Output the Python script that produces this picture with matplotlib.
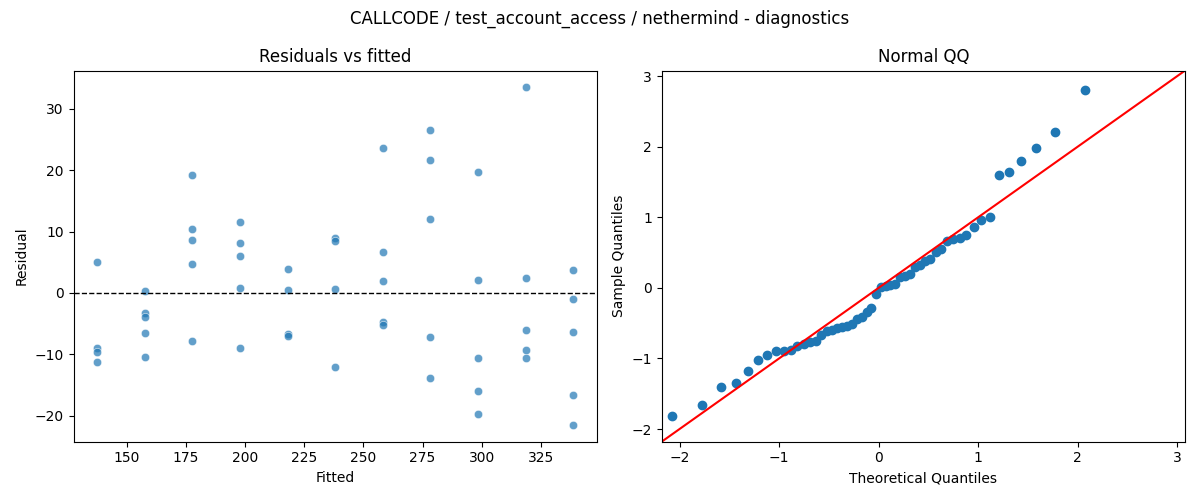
import numpy as np
import matplotlib
matplotlib.use("Agg")
import matplotlib.pyplot as plt
import seaborn as sns
from statistics import NormalDist

# Fitted levels and residuals, one list per level
fitted_levels = [137.5, 157.6, 177.7, 197.8, 217.9, 238.1, 258.2, 278.3, 298.4, 318.5, 338.6]
residuals_by_level = [
    [5.0, -8.9, -9.7, -11.2],
    [0.3, -3.3, -3.9, -6.5, -10.4],
    [19.2, 10.4, 8.6, 4.7, -7.9],
    [11.5, 8.1, 6.1, 0.8, -9.0],
    [3.9, 0.5, -6.7, -7.0],
    [9.0, 8.4, 0.6, -12.0],
    [23.7, 6.7, 1.9, -4.8, -5.2],
    [26.5, 21.6, 12.0, -7.2, -13.9],
    [19.7, 2.1, -10.6, -16.0, -19.7],
    [33.5, 2.4, -6.0, -9.3, -10.6],
    [3.7, -1.0, -6.4, -16.7, -21.5],
]

fitted = []
resid = []
for f, rs in zip(fitted_levels, residuals_by_level):
    fitted += [f] * len(rs)
    resid += rs
fitted = np.array(fitted)
resid = np.array(resid)

# Normal QQ of the standardised residuals
sample_q = np.sort((resid - resid.mean()) / resid.std())
n = len(sample_q)
nd = NormalDist()
theo_q = np.array([nd.inv_cdf(i / (n + 1)) for i in range(1, n + 1)])

fig, (ax1, ax2) = plt.subplots(1, 2, figsize=(12, 5))

sns.scatterplot(x=fitted, y=resid, alpha=0.7, ax=ax1)
ax1.axhline(0, color="black", linestyle="--", linewidth=1)
ax1.set_title("Residuals vs fitted")
ax1.set_xlabel("Fitted")
ax1.set_ylabel("Residual")

ax2.plot(theo_q, sample_q, "o", color="C0", markersize=6)
lims = [-2.18, 3.08]
ax2.plot(lims, lims, "r")
ax2.set_xlim(lims)
ax2.set_ylim(lims)
ax2.set_title("Normal QQ")
ax2.set_xlabel("Theoretical Quantiles")
ax2.set_ylabel("Sample Quantiles")

fig.suptitle("CALLCODE / test_account_access / nethermind - diagnostics")
plt.tight_layout()
plt.savefig("out.png", dpi=100)
